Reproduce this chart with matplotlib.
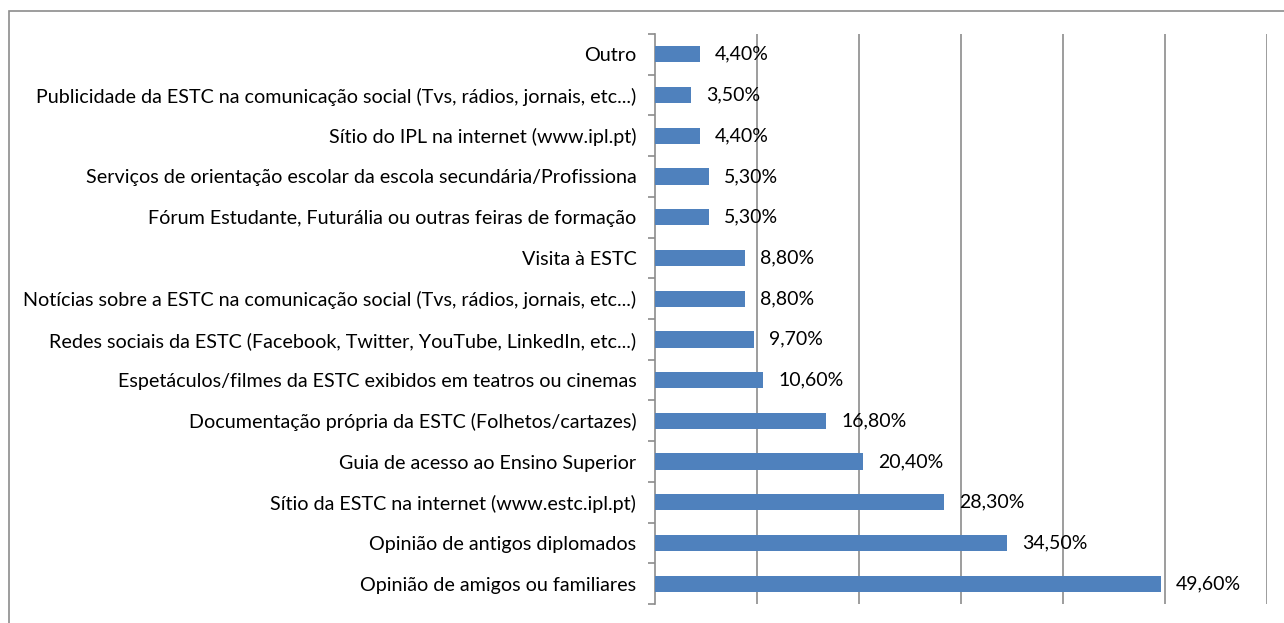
import numpy as np
import matplotlib.pyplot as plt
from matplotlib.patches import Rectangle

# categorias (de cima para baixo, como no grafico)
categorias = [
    "Outro",
    "Publicidade da ESTC na comunicação social (Tvs, rádios, jornais, etc...)",
    "Sítio do IPL na internet (www.ipl.pt)",
    "Serviços de orientação escolar da escola secundária/Profissiona",
    "Fórum Estudante, Futurália ou outras feiras de formação",
    "Visita à ESTC",
    "Notícias sobre a ESTC na comunicação social (Tvs, rádios, jornais, etc...)",
    "Redes sociais da ESTC (Facebook, Twitter, YouTube, LinkedIn, etc...)",
    "Espetáculos/filmes da ESTC exibidos em teatros ou cinemas",
    "Documentação própria da ESTC (Folhetos/cartazes)",
    "Guia de acesso ao Ensino Superior",
    "Sítio da ESTC na internet (www.estc.ipl.pt)",
    "Opinião de antigos diplomados",
    "Opinião de amigos ou familiares",
]
valores = [4.4, 3.5, 4.4, 5.3, 5.3, 8.8, 8.8, 9.7, 10.6, 16.8, 20.4, 28.3, 34.5, 49.6]

plt.rcParams['font.family'] = ['Lato', 'DejaVu Sans']

fig = plt.figure(figsize=(12.84, 6.23), dpi=100)

# moldura exterior (estilo Excel)
fig.patches.append(Rectangle((9 / 1284, -0.1), 1.2, 1 - 11 / 623 + 0.1,
                             transform=fig.transFigure, fill=False,
                             edgecolor='#8c8c8c', linewidth=1.2))

ax = fig.add_axes([655 / 1284, 19 / 623, 612 / 1284, 570 / 623])

n = len(categorias)
y = np.arange(n)[::-1]
ax.barh(y, valores, height=0.4, color='#4F81BD', zorder=3)

for yi, v in zip(y, valores):
    txt = ("%.2f%%" % v).replace('.', ',')
    ax.text(v + 1.5, yi, txt, va='center', ha='left', fontsize=14, color='black', zorder=4)

ax.set_xlim(0, 60)
ax.set_ylim(-0.5, n - 0.5)
ax.set_xticks(np.arange(10, 61, 10))
ax.xaxis.grid(True, color='#8c8c8c', linewidth=1.2, zorder=0)
ax.tick_params(axis='x', length=0, labelbottom=False)

ax.set_yticks(y)
ax.set_yticklabels(categorias, fontsize=14.2)
ax.set_yticks(np.arange(-0.5, n, 1), minor=True)
ax.tick_params(axis='y', which='major', length=0, pad=13.5)
ax.tick_params(axis='y', which='minor', length=5, color='#8c8c8c', width=1.2)

for s in ['top', 'right', 'bottom']:
    ax.spines[s].set_visible(False)
ax.spines['left'].set_color('#8c8c8c')
ax.spines['left'].set_linewidth(1.2)

fig.savefig('out.png', dpi=100)
